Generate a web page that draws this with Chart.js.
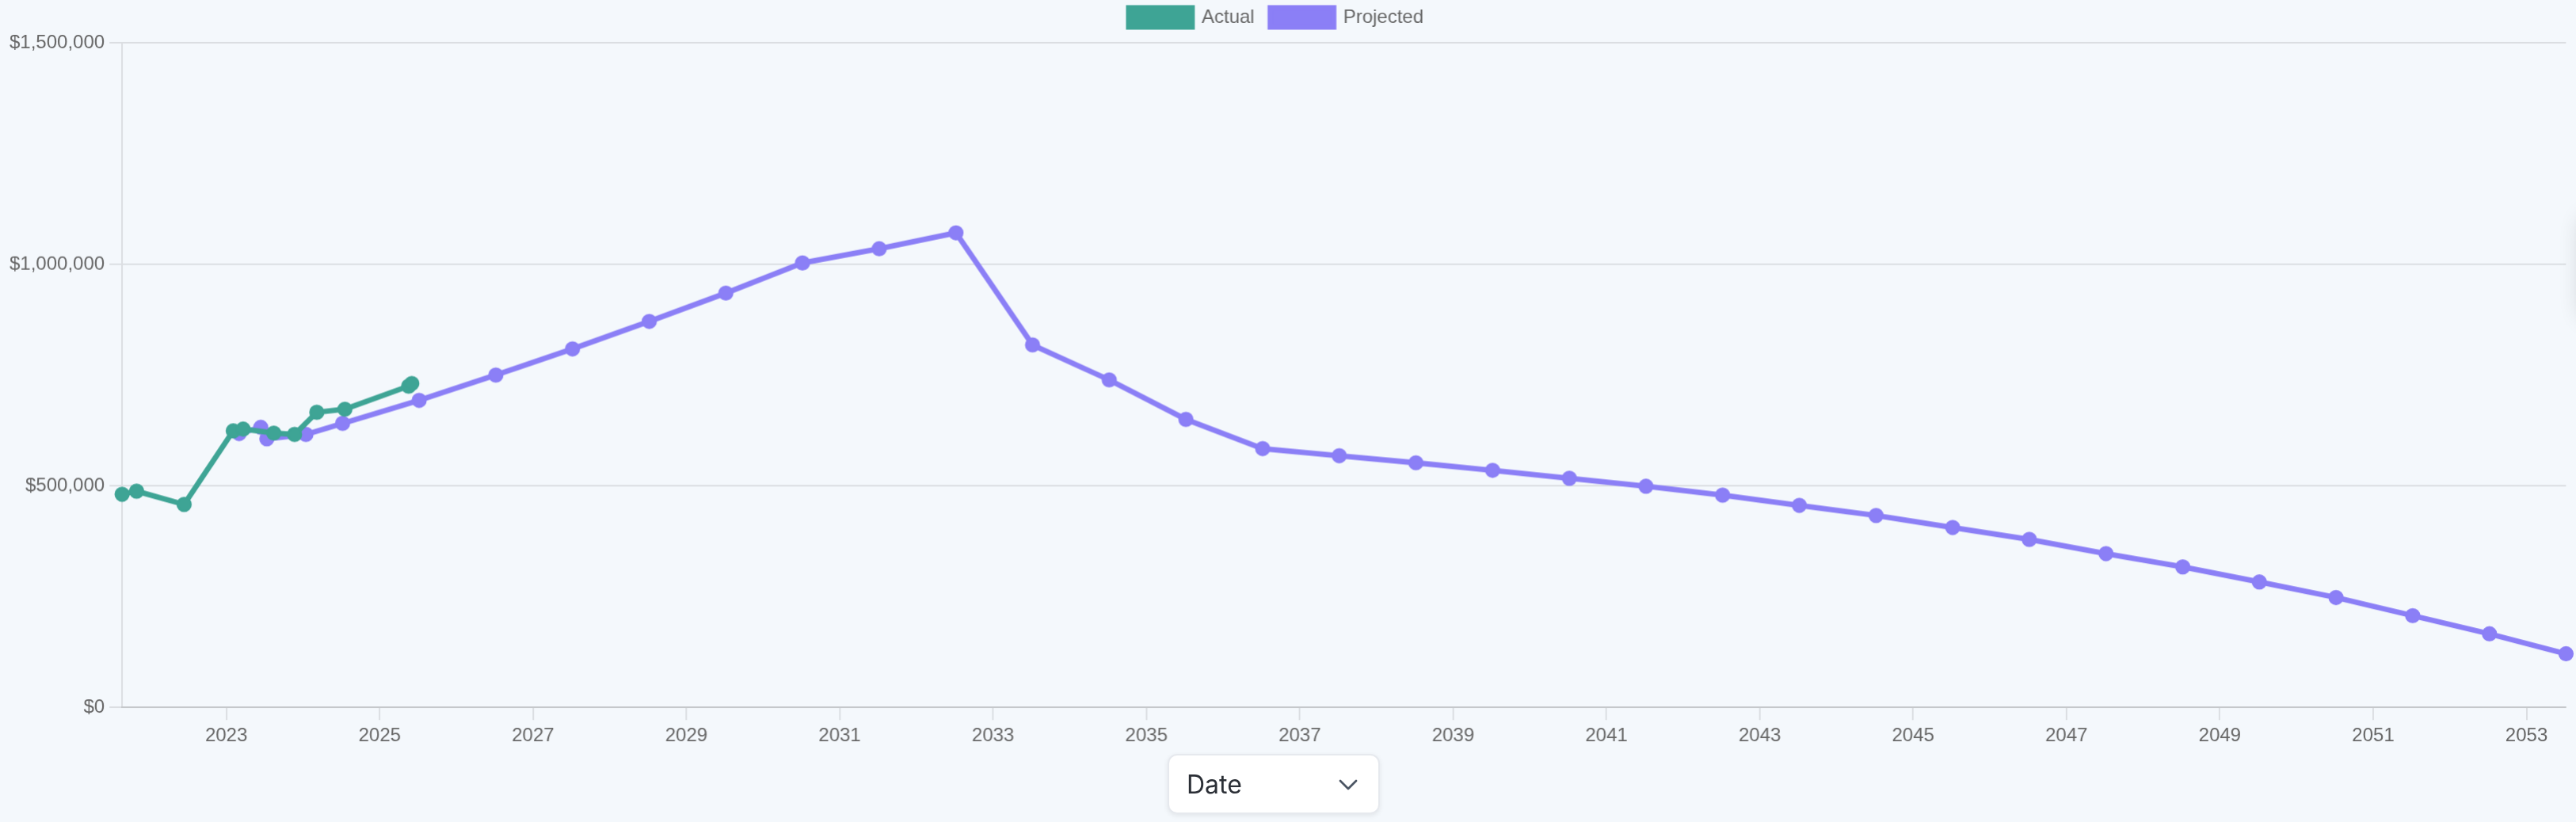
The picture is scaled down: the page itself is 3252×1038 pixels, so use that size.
<!DOCTYPE html>
<html lang="en">
<head>
<meta charset="utf-8">
<title>Actual vs Projected</title>
<script src="https://cdn.jsdelivr.net/npm/chart.js@4.4.1/dist/chart.umd.min.js"></script>
<style>
  html, body {
    margin: 0;
    padding: 0;
    width: 3252px;
    height: 1038px;
    overflow: hidden;
    background: #f4f8fc;
  }
  /* page is laid out at half size and scaled up, like a 2x screenshot */
  #stage {
    position: absolute;
    left: 0;
    top: 0;
    width: 1626px;
    height: 519px;
    transform: scale(2);
    transform-origin: 0 0;
  }
  #chartBox {
    position: absolute;
    left: 3px;
    top: -5.5px;
    width: 1621.5px;
    height: 480.5px;
  }
  #dateSelect {
    position: absolute;
    left: 736.5px;
    top: 475.5px;
    width: 134.5px;
    height: 38.5px;
    box-sizing: border-box;
    background: #fff;
    border: 1px solid #e6e9ee;
    border-radius: 6px;
    box-shadow: 0 1px 3px rgba(0, 0, 0, 0.08);
    font-family: Inter, 'Noto Sans', sans-serif;
    font-size: 16px;
    color: #2b2f36;
    line-height: 36.5px;
    padding-left: 11.5px;
  }
  #dateSelect svg {
    position: absolute;
    right: 13px;
    top: 15px;
  }
  #sideTab {
    position: absolute;
    left: 1629px;
    top: 134px;
    width: 30px;
    height: 66px;
    border-radius: 8px;
    background: #fff;
    box-shadow: 0 2px 14px rgba(0, 0, 0, 0.16);
  }
</style>
</head>
<body>
<div id="stage">
  <div id="chartBox"><canvas id="valueChart"></canvas></div>
  <div id="dateSelect">Date
    <svg width="12" height="7" viewBox="0 0 12 7"><path d="M1 1 L6 6 L11 1" fill="none" stroke="#4b5563" stroke-width="1.4" stroke-linecap="round" stroke-linejoin="round"/></svg>
  </div>
  <div id="sideTab"></div>
</div>

<script>
/* ---- Data ---- */
const actualDates = [
  '2021-08-23', '2021-10-31', '2022-06-14', '2023-02-03', '2023-03-22', '2023-08-15',
  '2023-11-22', '2024-03-07', '2024-07-19', '2025-05-19', '2025-06-03'
];
const actualValues = [
  481000, 488000, 458000, 624000, 628000, 619000,
  616000, 666000, 673000, 725000, 731000
];

const projectedDates = [
  '2023-03-03', '2023-06-14', '2023-07-13', '2024-01-15', '2024-07-08',
  '2025-07-08', '2026-07-08', '2027-07-08', '2028-07-08', '2029-07-08',
  '2030-07-08', '2031-07-08', '2032-07-08', '2033-07-08', '2034-07-08',
  '2035-07-08', '2036-07-08', '2037-07-08', '2038-07-08', '2039-07-08',
  '2040-07-08', '2041-07-08', '2042-07-08', '2043-07-08', '2044-07-08',
  '2045-07-08', '2046-07-08', '2047-07-08', '2048-07-08', '2049-07-08',
  '2050-07-08', '2051-07-08', '2052-07-08', '2053-07-08'
];
const projectedValues = [
  618000, 632000, 606000, 616000, 641000,
  693000, 750000, 809000, 871000, 935000,
  1003000, 1035000, 1071000, 818000, 739000,
  650000, 584000, 568000, 552000, 535000,
  517000, 499000, 479000, 456000, 433000,
  406000, 379000, 347000, 317000, 283000,
  248000, 207000, 166000, 121000
];

const xTickYears = [2023, 2025, 2027, 2029, 2031, 2033, 2035, 2037, 2039, 2041, 2043, 2045, 2047, 2049, 2051, 2053];
const yTickValues = [0, 500000, 1000000, 1500000];

const ACTUAL_COLOR = '#3ea495';
const PROJECTED_COLOR = '#8b7ff6';
const GRID_COLOR = 'rgba(0, 0, 0, 0.1)';

/* date string -> decimal year, so a plain linear axis can be used */
function toYear(d) {
  const t = Date.parse(d + 'T00:00:00Z');
  const y = new Date(t).getUTCFullYear();
  const start = Date.UTC(y, 0, 1);
  const end = Date.UTC(y + 1, 0, 1);
  return y + (t - start) / (end - start);
}

function toPoints(dates, values) {
  return dates.map((d, i) => ({ x: toYear(d), y: values[i] }));
}

const actualPoints = toPoints(actualDates, actualValues);
const projectedPoints = toPoints(projectedDates, projectedValues);

const allYears = actualPoints.concat(projectedPoints).map(p => p.x);
const xMin = Math.min(...allYears);
const xMax = Math.max(...allYears);

/* ---- Legend nudge (legend sits a little left of canvas centre) ---- */
const legendShift = {
  id: 'legendShift',
  afterLayout(chart) {
    if (!chart.legend) return;
    chart.legend.left -= 6;
    chart.legend.right -= 6;
  }
};

/* ---- Chart ---- */
Chart.defaults.font.family = "'Liberation Sans', Arial, Helvetica, sans-serif";
Chart.defaults.font.size = 12;
Chart.defaults.color = '#666';

const ctx = document.getElementById('valueChart');
new Chart(ctx, {
  type: 'line',
  data: {
    datasets: [
      {
        label: 'Actual',
        data: actualPoints,
        borderColor: ACTUAL_COLOR,
        backgroundColor: ACTUAL_COLOR,
        pointBackgroundColor: ACTUAL_COLOR,
        pointBorderColor: ACTUAL_COLOR,
        borderWidth: 3.4,
        pointRadius: 4.3,
        pointBorderWidth: 1,
        tension: 0,
        clip: false,
      },
      {
        label: 'Projected',
        data: projectedPoints,
        borderColor: PROJECTED_COLOR,
        backgroundColor: PROJECTED_COLOR,
        pointBackgroundColor: PROJECTED_COLOR,
        pointBorderColor: PROJECTED_COLOR,
        borderWidth: 3.4,
        pointRadius: 4.3,
        pointBorderWidth: 1,
        tension: 0,
        clip: false,
      }
    ]
  },
  options: {
    responsive: true,
    maintainAspectRatio: false,
    devicePixelRatio: 2,
    animation: false,
    layout: { padding: { right: 5 } },
    plugins: {
      legend: {
        position: 'top',
        labels: { boxWidth: 40, padding: 10, color: '#666' }
      },
      tooltip: { enabled: false }
    },
    scales: {
      x: {
        type: 'linear',
        min: xMin,
        max: xMax,
        grid: { drawOnChartArea: false, drawTicks: true, tickLength: 8, color: GRID_COLOR },
        border: { display: true, color: GRID_COLOR },
        afterBuildTicks: axis => {
          axis.ticks = xTickYears.map(v => ({ value: v }));
        },
        ticks: {
          autoSkip: false,
          maxRotation: 0,
          padding: 3,
          callback: v => String(v)
        }
      },
      y: {
        min: yTickValues[0],
        max: yTickValues[yTickValues.length - 1],
        grid: { color: GRID_COLOR, tickLength: 8 },
        border: { display: true, color: GRID_COLOR },
        afterBuildTicks: axis => {
          axis.ticks = yTickValues.map(v => ({ value: v }));
        },
        ticks: {
          padding: 3,
          callback: v => '$' + Number(v).toLocaleString('en-US')
        }
      }
    }
  },
  plugins: [legendShift]
});
</script>
</body>
</html>
